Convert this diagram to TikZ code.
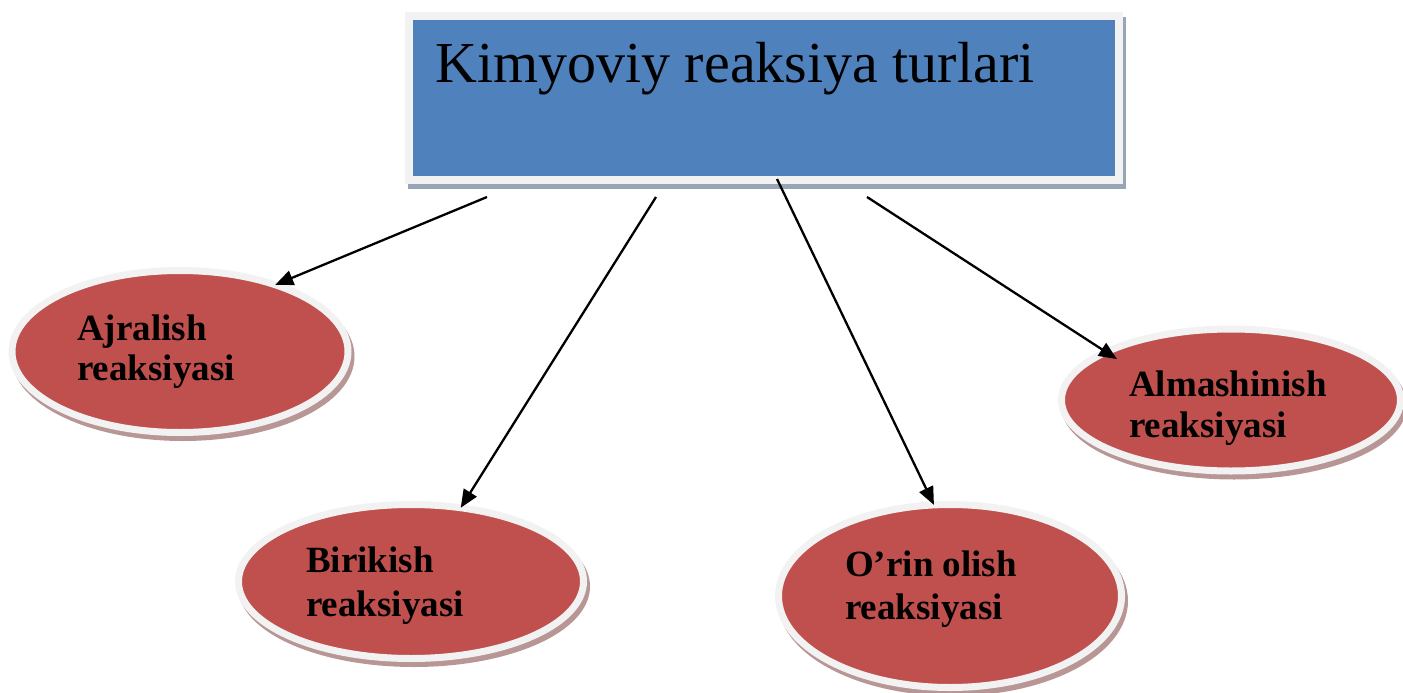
\documentclass[tikz,border=0pt]{standalone}
\usepackage{fontspec}
\setmainfont{Liberation Serif}
\usetikzlibrary{arrows.meta,shapes.geometric}
\definecolor{boxblue}{HTML}{4F81BD}
\definecolor{ovalred}{HTML}{C0504D}
\definecolor{ringgrey}{HTML}{F2F2F2}
\definecolor{boxshadow}{HTML}{97A5B6}
\definecolor{ovalshadow}{HTML}{B99696}
\tikzset{
  titlebox/.style={rectangle, fill=boxblue, draw=ringgrey, line width=8pt,
    minimum width=710pt, minimum height=164pt, inner sep=0pt, outer sep=0pt},
  titleshadow/.style={titlebox, fill=boxshadow, draw=boxshadow},
  oval/.style={ellipse, fill=ovalred, draw=ringgrey, line width=7pt,
    inner sep=0pt, outer sep=0pt},
  ovalshade/.style={oval, fill=ovalshadow, draw=ovalshadow},
  titletext/.style={anchor=base west, inner sep=0pt,
    font=\fontsize{58}{70}\selectfont},
  ovaltext/.style={anchor=base west, inner sep=0pt,
    font=\fontsize{37}{42}\selectfont\bfseries},
  link/.style={line width=2.3pt, -{Triangle[length=18pt,width=15pt]}}
}
\begin{document}
\begin{tikzpicture}[x=1pt,y=-1pt]
\useasboundingbox (0,0) rectangle (1403,693);
% title box
\node[titleshadow] (bs) at (767,103) {};
\node[titlebox] (box) at (764,98) {};
\node[titletext] (title) at (435,83) {Kimyoviy reaksiya turlari};
% ellipse shadows
\node[ovalshade, minimum width=336pt, minimum height=162pt] (s1) at (183,356.5) {};
\node[ovalshade, minimum width=345pt, minimum height=154pt] (s2) at (414,586.5) {};
\node[ovalshade, minimum width=343pt, minimum height=183pt] (s3) at (953,601) {};
\node[ovalshade, minimum width=339pt, minimum height=142pt] (s4) at (1234,405) {};
% ellipses
\node[oval, minimum width=336pt, minimum height=162pt] (e1) at (180,351.5) {};
\node[oval, minimum width=345pt, minimum height=154pt] (e2) at (411,581.5) {};
\node[oval, minimum width=343pt, minimum height=183pt] (e3) at (950,596) {};
\node[oval, minimum width=339pt, minimum height=142pt] (e4) at (1231,400) {};
% texts
\node[ovaltext] (t1a) at (77,340) {Ajralish};
\node[ovaltext] (t1b) at (77,380) {reaksiyasi};
\node[ovaltext] (t2a) at (306,572) {Birikish};
\node[ovaltext] (t2b) at (306,616) {reaksiyasi};
\node[ovaltext] (t3a) at (845,576) {O’rin olish};
\node[ovaltext] (t3b) at (845,619) {reaksiyasi};
\node[ovaltext] (t4a) at (1129,396) {Almashinish};
\node[ovaltext] (t4b) at (1129,437) {reaksiyasi};
% arrow starts
\coordinate (c1) at (487,197);
\coordinate (c2) at (656,197);
\coordinate (c3) at (777,179);
\coordinate (c4) at (867,197);
\draw[link] (c1) -- (e1.35);
\draw[link] (c2) -- (e2.56);
\draw[link] (c3) -- (e3.100.5);
\draw[link, shorten >=-13pt] (c4) -- (e4.159.4);
\end{tikzpicture}
\end{document}
